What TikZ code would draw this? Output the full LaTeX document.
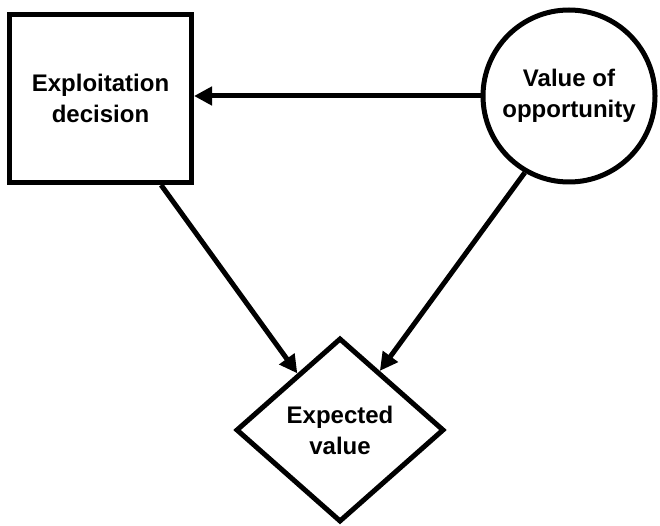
\documentclass[tikz,border=0pt]{standalone}
\usepackage{fontspec}
\setmainfont{Liberation Sans}
\usetikzlibrary{shapes.geometric,arrows.meta}
\begin{document}
\begin{tikzpicture}[x=1pt,y=-1pt,
  every node/.style={line width=5pt,draw=black,inner sep=0pt,align=center,
    font=\bfseries\fontsize{24}{31}\selectfont},
  decisionbox/.style={rectangle,minimum width=182pt,minimum height=168pt},
  chancebox/.style={circle,minimum size=172pt},
  valuebox/.style={diamond,minimum width=208pt,minimum height=184pt},
  link/.style={line width=5pt,-{Triangle[length=18pt,width=18pt]}}]
  \useasboundingbox (0,0) rectangle (660,526);
  % decision (square), chance (circle) and value (diamond) nodes
  \node[decisionbox] (sq) at (100.5,98.5) {Exploitation\\decision};
  \node[chancebox] (circ) at (569,96) {Value of\\opportunity};
  \node[valuebox] (dia) at (340,430) {Expected\\value};
  % influence arcs
  \draw[link] (circ.west) -- (circ.west -| sq.east);
  \draw[link] (sq.-55.6) -- (dia.127.8);
  \draw[link] (circ.-120.7) -- (dia.56.3);
\end{tikzpicture}
\end{document}
